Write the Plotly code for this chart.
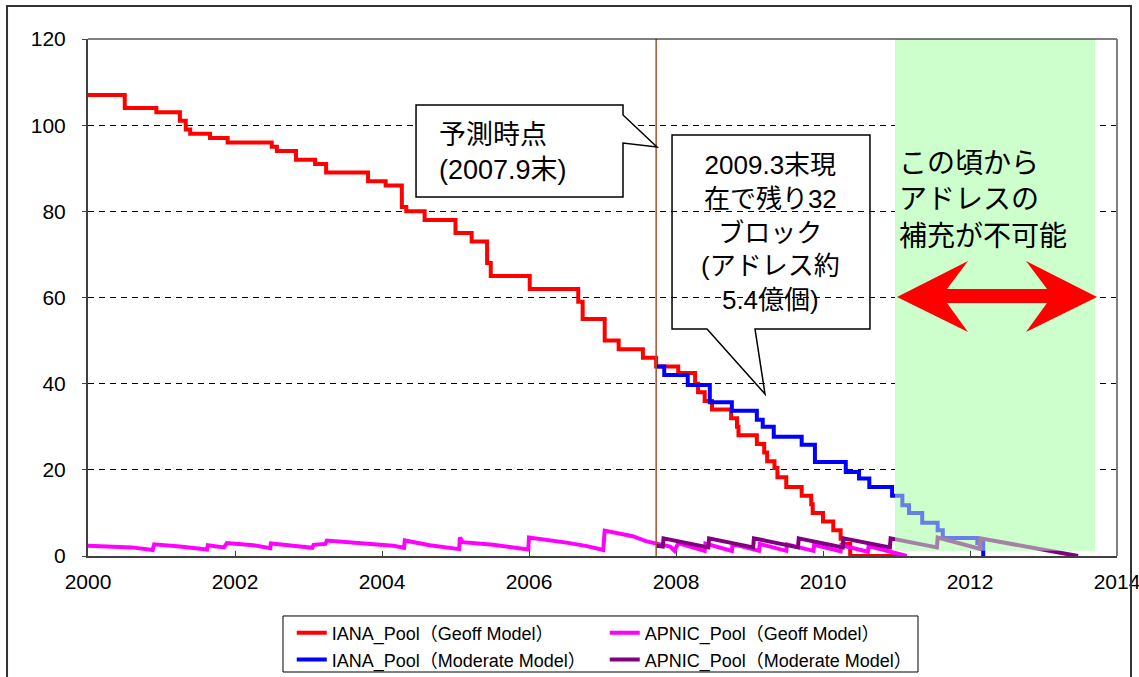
import plotly.graph_objects as go

# ---------------- data ----------------
x_ticks = [2000, 2002, 2004, 2006, 2008, 2010, 2012, 2014]
y_ticks = [0, 20, 40, 60, 80, 100, 120]

iana_geoff_year = [2000.0, 2000.50, 2000.93, 2001.25, 2001.33, 2001.39, 2001.66, 2001.90,
                   2002.50, 2002.57, 2002.83, 2003.09, 2003.24, 2003.81, 2004.05, 2004.27,
                   2004.33, 2004.58, 2005.00, 2005.22, 2005.43, 2005.48, 2006.01, 2006.67,
                   2006.73, 2007.03, 2007.22, 2007.55, 2007.73, 2008.03, 2008.26, 2008.30,
                   2008.39, 2008.49, 2008.75, 2008.83, 2008.85, 2009.10, 2009.20, 2009.24,
                   2009.34, 2009.38, 2009.50, 2009.71, 2009.84, 2009.86, 2010.00, 2010.14,
                   2010.24, 2010.27, 2010.37, 2011.10]
iana_geoff_pool = [107, 104, 103, 101, 99, 98, 97, 96,
                   95, 94, 92, 91, 89, 87, 86, 81,
                   80, 78, 75, 73, 68, 65, 62, 59,
                   55, 50, 48, 46, 44, 42.5, 40, 38,
                   36, 34, 32, 30, 28, 26, 24, 22,
                   20.4, 18.3, 16, 14, 12, 10, 8, 6,
                   4, 2.8, 0, 0]

iana_mod_year = [2007.73, 2007.84, 2008.16, 2008.46, 2008.76, 2009.10, 2009.18, 2009.33,
                 2009.71, 2009.89, 2010.31, 2010.49, 2010.63, 2010.94, 2011.08, 2011.17,
                 2011.35, 2011.56, 2011.63, 2012.10, 2012.18, 2012.19]
iana_mod_pool = [44, 42, 39.7, 35.7, 33.7, 31.6, 30, 27.7,
                 25.8, 21.8, 19.5, 18, 16, 14, 11.8, 10,
                 7.7, 6, 4.2, 3, 0, 0]

apnic_geoff_year = [2000.0, 2000.6, 2000.88, 2000.9, 2001.25, 2001.48, 2001.62, 2001.63, 2001.85,
                    2001.89, 2002.25, 2002.48, 2002.49, 2002.79, 2003.05, 2003.07, 2003.23,
                    2003.25, 2003.52, 2003.84, 2004.15, 2004.30, 2004.31, 2004.65, 2004.97,
                    2005.05, 2005.06, 2005.10, 2005.51, 2005.84, 2005.99, 2006.00, 2006.20,
                    2006.51, 2006.79, 2007.01, 2007.03, 2007.20, 2007.41, 2007.60, 2007.78,
                    2007.92, 2007.98, 2008.03, 2008.39, 2008.40, 2008.76, 2008.77, 2009.13,
                    2009.14, 2009.50, 2009.51, 2009.87, 2009.88, 2010.24, 2010.25, 2010.61,
                    2010.62, 2011.14]
apnic_geoff_pool = [2.4, 2.0, 1.4, 2.7, 2.2, 1.8, 1.5, 2.5, 2.0,
                    3.0, 2.5, 1.8, 2.9, 2.4, 1.9, 2.6, 2.8,
                    3.6, 3.3, 2.8, 2.4, 1.9, 3.6, 2.5, 1.8,
                    1.6, 4.3, 3.2, 2.6, 1.9, 1.5, 4.3, 3.9,
                    3.1, 2.3, 1.4, 5.9, 5.4, 4.6, 3.4, 2.7,
                    2.2, 1.2, 3.0, 1.2, 2.9, 1.2, 2.8, 1.2,
                    2.8, 1.2, 2.7, 1.2, 2.6, 1.1, 2.5, 1.0,
                    2.3, 0.0]

apnic_mod_year = [2007.73, 2007.82, 2007.83, 2008.44, 2008.45, 2009.05, 2009.06, 2009.66,
                  2009.67, 2010.27, 2010.28, 2010.91, 2010.92, 2011.55, 2011.56, 2012.13,
                  2012.14, 2013.47]
apnic_mod_pool = [2.4, 2.2, 4.1, 2.0, 4.1, 2.0, 4.1, 2.0,
                  4.1, 2.0, 4.1, 2.0, 4.1, 2.0, 4.3, 1.7,
                  4.1, 0.0]

prediction_point = 2007.73
exhaustion_start, exhaustion_end = 2010.98, 2013.70

JP = "Liberation Sans, Noto Sans CJK JP, sans-serif"
LW = 4

fig = go.Figure()

fig.add_trace(go.Scatter(x=iana_geoff_year, y=iana_geoff_pool, mode="lines", line_shape="hv",
                         line=dict(color="#ff0000", width=LW),
                         name="IANA_Pool（Geoff Model）", legend="legend"))
fig.add_trace(go.Scatter(x=apnic_geoff_year, y=apnic_geoff_pool, mode="lines",
                         line=dict(color="#ff00ff", width=LW),
                         name="APNIC_Pool（Geoff Model）", legend="legend"))
fig.add_trace(go.Scatter(x=iana_mod_year, y=iana_mod_pool, mode="lines", line_shape="hv",
                         line=dict(color="#0000ff", width=LW),
                         name="IANA_Pool（Moderate Model）", legend="legend2"))
fig.add_trace(go.Scatter(x=apnic_mod_year, y=apnic_mod_pool, mode="lines",
                         line=dict(color="#800080", width=LW),
                         name="APNIC_Pool（Moderate Model）", legend="legend2"))

shapes = []
shapes.append(dict(type="rect", xref="x", yref="y", x0=exhaustion_start, x1=exhaustion_end,
                   y0=1.2, y1=120, fillcolor="#ccffcc", line=dict(width=0), layer="between"))
shapes.append(dict(type="rect", xref="x", yref="y", x0=exhaustion_start, x1=exhaustion_end,
                   y0=1.2, y1=120, fillcolor="#ccffcc", opacity=0.5, line=dict(width=0),
                   layer="above"))
shapes.append(dict(type="line", xref="x", yref="y", x0=prediction_point, x1=prediction_point,
                   y0=0, y1=120, line=dict(color="#a0522d", width=1.5), layer="above"))
shapes.append(dict(type="path", xref="x", yref="y", layer="above",
                   path="M2004.463,104.68 L2007.279,104.68 L2007.279,102.36 L2007.741,94.93 "
                        "L2007.279,95.86 L2007.279,83.33 L2004.463,83.33 Z",
                   fillcolor="white", line=dict(color="black", width=1.5)))
shapes.append(dict(type="path", xref="x", yref="y", layer="above",
                   path="M2007.946,97.72 L2010.639,97.72 L2010.639,52.69 L2009.075,52.69 "
                        "L2009.211,37.60 L2008.422,52.69 L2007.946,52.69 Z",
                   fillcolor="rgba(0,0,0,0)", line=dict(color="black", width=1.5)))
shapes.append(dict(type="path", xref="x", yref="y", layer="above",
                   path="M2011.007,60.12 L2011.973,68.47 L2011.687,61.97 L2013.048,61.97 "
                        "L2012.762,68.47 L2013.728,60.12 L2012.762,51.99 L2013.048,58.72 "
                        "L2011.687,58.72 L2011.973,51.99 Z",
                   fillcolor="#ff0000", line=dict(width=0)))
shapes.append(dict(type="line", xref="paper", yref="paper", x0=0, x1=1, y0=1, y1=1,
                   line=dict(color="black", width=1), layer="above"))
shapes.append(dict(type="line", xref="paper", yref="paper", x0=1, x1=1, y0=0, y1=1,
                   line=dict(color="#808080", width=2), layer="above"))
shapes.append(dict(type="rect", xref="paper", yref="paper", x0=-0.0787, x1=1.0136,
                   y0=-0.26, y1=1.0638, line=dict(color="#333333", width=2), layer="above"))
shapes.append(dict(type="rect", xref="paper", yref="paper", x0=0.1895, x1=0.8066,
                   y0=-0.2244, y1=-0.116, line=dict(color="black", width=1), layer="above"))
fig.update_layout(shapes=shapes)

annotations = [
    dict(x=2004.75, y=93.77, xref="x", yref="y", xanchor="left", yanchor="middle", align="left",
         text="予測時点<br>(2007.9末)", showarrow=False, font=dict(family=JP, size=27, color="black")),
    dict(x=2009.29, y=75.2, xref="x", yref="y", xanchor="center", yanchor="middle", align="center",
         text="2009.3末現<br>在で残り32<br>ブロック<br>(アドレス約<br>5.4億個)", showarrow=False,
         font=dict(family=JP, size=26, color="black")),
    dict(x=2011.01, y=82.63, xref="x", yref="y", xanchor="left", yanchor="middle", align="left",
         text="この頃から<br>アドレスの<br>補充が不可能", showarrow=False,
         font=dict(family=JP, size=28, color="black")),
]
fig.update_layout(annotations=annotations)

fig.update_layout(
    width=1139, height=677,
    margin=dict(l=88, r=22, t=39, b=121, autoexpand=False),
    paper_bgcolor="white", plot_bgcolor="white",
    font=dict(family=JP, color="black"),
    xaxis=dict(range=[2000, 2014], tickvals=x_ticks, ticktext=[str(v) for v in x_ticks],
               showgrid=False, zeroline=False, showline=True, linecolor="#404040", linewidth=2,
               ticks="inside", ticklen=5, tickcolor="#404040", tickfont=dict(size=21, family=JP),
               ticklabelstandoff=6, ticklabeloverflow="allow"),
    yaxis=dict(range=[0, 120], tickvals=y_ticks, showgrid=True, gridcolor="black", gridwidth=1,
               griddash="6px,5px", zeroline=False, showline=True, linecolor="#404040", linewidth=2,
               ticks="outside", ticklen=4, tickcolor="#404040", tickfont=dict(size=21, family=JP),
               ticklabelstandoff=12, ticklabeloverflow="allow"),
    legend=dict(orientation="h", x=0.198, xanchor="left", y=-0.149, yanchor="middle",
                entrywidth=268, entrywidthmode="pixels", bgcolor="rgba(0,0,0,0)",
                font=dict(size=18, family=JP)),
    legend2=dict(orientation="h", x=0.198, xanchor="left", y=-0.201, yanchor="middle",
                 entrywidth=268, entrywidthmode="pixels", bgcolor="rgba(0,0,0,0)",
                 font=dict(size=18, family=JP)),
    showlegend=True,
)

fig.write_html("out.html", config={"displayModeBar": False},
               post_script="document.body.style.margin='0';document.body.style.overflow='hidden';")
